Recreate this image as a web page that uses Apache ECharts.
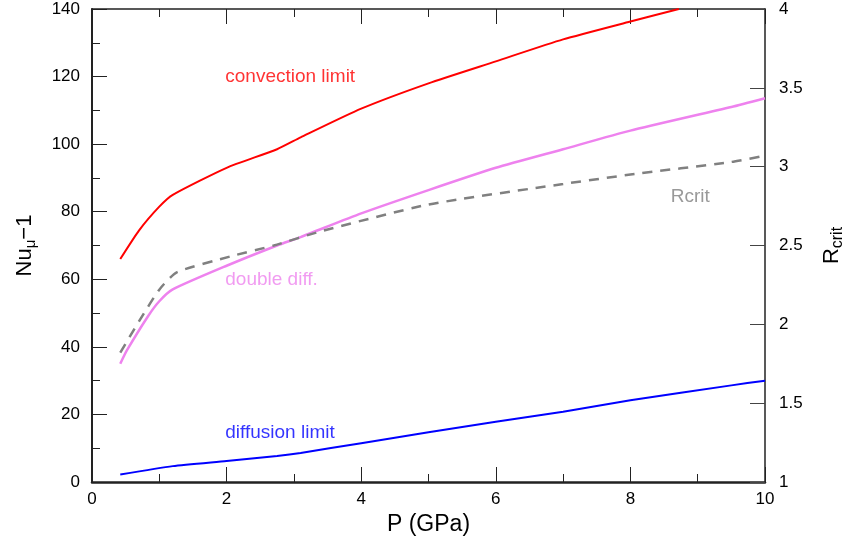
<!DOCTYPE html>
<html>
<head>
<meta charset="utf-8">
<script src="https://cdn.jsdelivr.net/npm/echarts@6/dist/echarts.min.js"></script>
<style>
  html, body { margin: 0; padding: 0; background: #fff; }
  #main { width: 852px; height: 545px; }
</style>
</head>
<body>
<div id="main"></div>
<script>
  // pressure (GPa) and curves
  var convP   = [0.42, 0.7, 1.0, 1.2, 2.0, 2.75, 3.1, 4, 5, 6, 7, 8, 8.72];
  var convNu  = [66, 74.5, 81.5, 85, 93, 98.5, 102, 110.5, 118, 124.5, 131, 136.3, 140];
  var ddP     = [0.42, 0.52, 0.83, 1.0, 1.2, 2.0, 2.75, 3.1, 4, 5, 6, 7, 8, 9.5, 10];
  var ddNu    = [35, 39, 49, 53.5, 57, 64, 70, 72.5, 79.5, 86.4, 93, 98.5, 104, 111, 113.6];
  var diffP   = [0.42, 1.2, 2.0, 2.75, 3.1, 4, 5, 6, 7, 8, 9.5, 10];
  var diffNu  = [2.2, 4.7, 6.2, 7.7, 8.6, 11.5, 14.7, 17.8, 20.8, 24.2, 28.6, 30];
  var rcritP  = [0.42, 0.7, 1.0, 1.26, 2.05, 2.7, 3.4, 5, 7, 8, 9.5, 10];
  var rcrit   = [1.82, 2.02, 2.22, 2.33, 2.43, 2.50, 2.59, 2.76, 2.89, 2.95, 3.03, 3.07];

  function pairs(xs, ys) {
    var out = [];
    for (var i = 0; i < xs.length; i++) out.push([xs[i], ys[i]]);
    return out;
  }

  var FONT = '"Liberation Sans", Arial, sans-serif';
  var myChart = echarts.init(document.getElementById('main'));

  function label(name, x, y, color, yIdx) {
    return {
      type: 'scatter',
      yAxisIndex: yIdx || 0,
      symbolSize: 0,
      silent: true,
      data: [[x, y]],
      label: {
        show: true, position: 'right', distance: 0,
        formatter: name, color: color, fontSize: 19, fontFamily: FONT
      }
    };
  }

  var option = {
    animation: false,
    grid: { left: 92, right: 87, top: 9, bottom: 63, containLabel: false, outerBoundsMode: 'none' },
    xAxis: [{
      type: 'value', min: 0, max: 10, interval: 2,
      name: 'P (GPa)', nameLocation: 'middle', nameGap: 30,
      nameTextStyle: { fontSize: 23, color: '#000', fontFamily: FONT },
      axisLine: { onZero: false, lineStyle: { color: '#222', width: 2.5 } },
      axisTick: { inside: true, length: 15, lineStyle: { color: '#222' } },
      minorTick: { show: true, splitNumber: 2, length: 8, lineStyle: { color: '#222' } },
      axisLabel: { fontSize: 17, color: '#000', margin: 9, fontFamily: FONT },
      splitLine: { show: false }
    }, {
      type: 'value', position: 'top', min: 0, max: 10, interval: 2,
      axisLine: { onZero: false, lineStyle: { color: '#222', width: 1.5 } },
      axisTick: { inside: true, length: 15, lineStyle: { color: '#222' } },
      minorTick: { show: true, splitNumber: 2, length: 8, lineStyle: { color: '#222' } },
      axisLabel: { show: false },
      splitLine: { show: false }
    }],
    yAxis: [{
      type: 'value', min: 0, max: 140, interval: 20,
      name: 'Nu{sub|μ}−1', nameLocation: 'middle', nameGap: 54, nameRotate: 90,
      nameTextStyle: {
        fontSize: 22, color: '#000', fontFamily: FONT,
        rich: { sub: { fontSize: 15, color: '#000', fontFamily: FONT, padding: [12, 0, 0, 0] } }
      },
      axisLine: { show: true, onZero: false, lineStyle: { color: '#222', width: 2 } },
      axisTick: { inside: true, length: 15, lineStyle: { color: '#222' } },
      minorTick: { show: true, splitNumber: 2, length: 8, lineStyle: { color: '#222' } },
      axisLabel: { fontSize: 17, color: '#000', margin: 12, fontFamily: FONT },
      splitLine: { show: false }
    }, {
      type: 'value', position: 'right', min: 1, max: 4, interval: 0.5,
      name: 'R{sub|crit}', nameLocation: 'middle', nameGap: 53, nameRotate: 90,
      nameTextStyle: {
        fontSize: 22, color: '#000', fontFamily: FONT,
        rich: { sub: { fontSize: 16, color: '#000', fontFamily: FONT, padding: [12, 0, 0, 0] } }
      },
      axisLine: { show: true, onZero: false, lineStyle: { color: '#222', width: 1.5 } },
      axisTick: { inside: true, length: 15, lineStyle: { color: '#444' } },
      axisLabel: { fontSize: 17, color: '#000', margin: 14, fontFamily: FONT },
      splitLine: { show: false }
    }],
    series: [
      {
        name: 'convection limit', type: 'line', showSymbol: false, smooth: 0.2,
        data: pairs(convP, convNu),
        lineStyle: { color: '#ff0000', width: 2 }
      },
      {
        name: 'double diff.', type: 'line', showSymbol: false, smooth: 0.2,
        data: pairs(ddP, ddNu),
        lineStyle: { color: '#ee82ee', width: 2.5 }
      },
      {
        name: 'diffusion limit', type: 'line', showSymbol: false, smooth: 0.2,
        data: pairs(diffP, diffNu),
        lineStyle: { color: '#0000ff', width: 2 }
      },
      {
        name: 'Rcrit', type: 'line', yAxisIndex: 1, showSymbol: false, smooth: 0.2,
        data: pairs(rcritP, rcrit),
        lineStyle: { color: '#808080', width: 2.5, type: [10, 8] }
      },
      label('convection limit', 1.98, 120, '#ff0000'),
      label('double diff.', 1.98, 60, '#ee82ee'),
      label('diffusion limit', 1.98, 14.5, '#0000ff'),
      label('Rcrit', 8.6, 2.81, '#808080', 1)
    ]
  };
  option && myChart.setOption(option);
</script>
</body>
</html>
